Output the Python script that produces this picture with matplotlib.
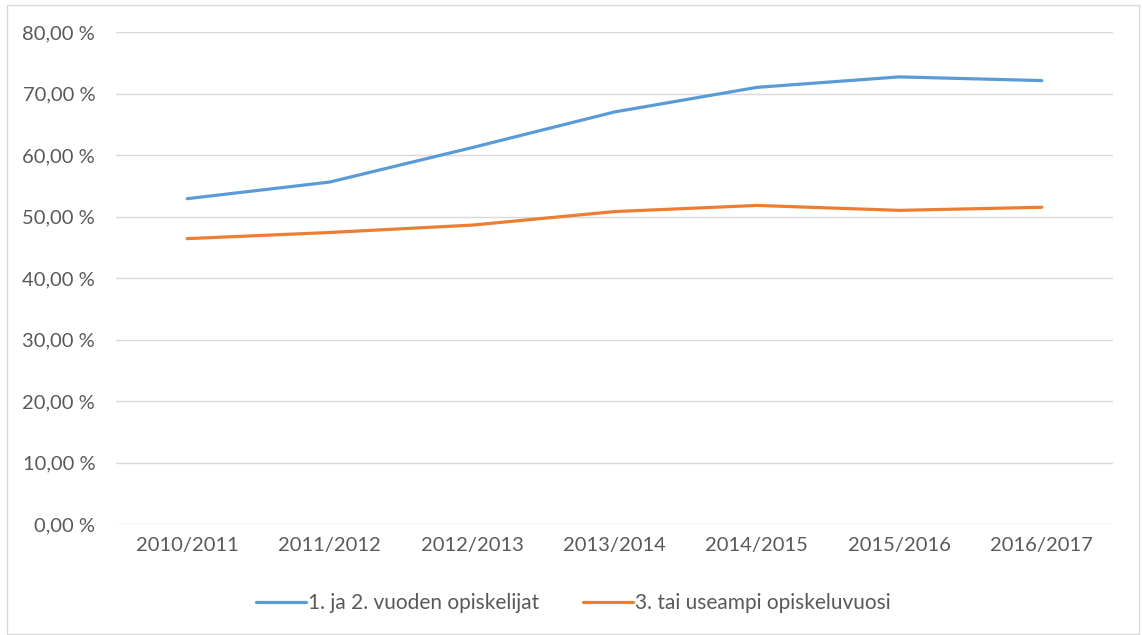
import matplotlib
matplotlib.use('Agg')
import matplotlib.pyplot as plt
from matplotlib.ticker import FuncFormatter, MultipleLocator
from matplotlib.patches import Rectangle

years = ["2010/2011", "2011/2012", "2012/2013", "2013/2014",
         "2014/2015", "2015/2016", "2016/2017"]
first_second = [52.9, 55.6, 61.2, 67.0, 71.0, 72.7, 72.1]
third_plus = [46.4, 47.4, 48.6, 50.8, 51.8, 51.0, 51.5]
labels = ["1. ja 2. vuoden opiskelijat", "3. tai useampi opiskeluvuosi"]

plt.rcParams['font.family'] = ['Lato', 'DejaVu Sans']
txt = '#595959'

fig = plt.figure(figsize=(11.42, 6.35), dpi=100)
ax = fig.add_axes([116/1142, 111/635, 997/1142, 492/635])

x = range(len(years))
ax.plot(x, first_second, color='#5B9BD5', linewidth=2.3, label=labels[0],
        solid_capstyle='round', zorder=3)
ax.plot(x, third_plus, color='#ED7D31', linewidth=2.3, label=labels[1],
        solid_capstyle='round', zorder=3)

ax.set_xlim(-0.5, len(years) - 0.5)
ax.set_ylim(0, 80)
ax.yaxis.set_major_locator(MultipleLocator(10))
ax.yaxis.set_major_formatter(FuncFormatter(lambda v, p: '{:.2f} %'.format(v).replace('.', ',')))
ax.set_xticks(list(x))
ax.set_xticklabels(years)

ax.grid(axis='y', color='#D9D9D9', linewidth=1.0)
ax.set_axisbelow(True)
for s in ax.spines.values():
    s.set_visible(False)
ax.tick_params(axis='both', length=0, labelsize=14.5, labelcolor=txt)
ax.tick_params(axis='y', pad=15)
ax.tick_params(axis='x', pad=9)

leg = fig.legend(loc='center', bbox_to_anchor=(573/1142, 1 - 603/635), ncol=2,
                 frameon=False, fontsize=15, handlelength=2.4, handletextpad=0.1,
                 columnspacing=2.1)
for t in leg.get_texts():
    t.set_color(txt)

# outer chart border
fig.patches.append(Rectangle((7/1142, 1 - 634/635), 1132/1142, 629/635,
                             transform=fig.transFigure, fill=False,
                             edgecolor='#D9D9D9', linewidth=1.0))

fig.savefig('out.png', dpi=100, facecolor='white')
